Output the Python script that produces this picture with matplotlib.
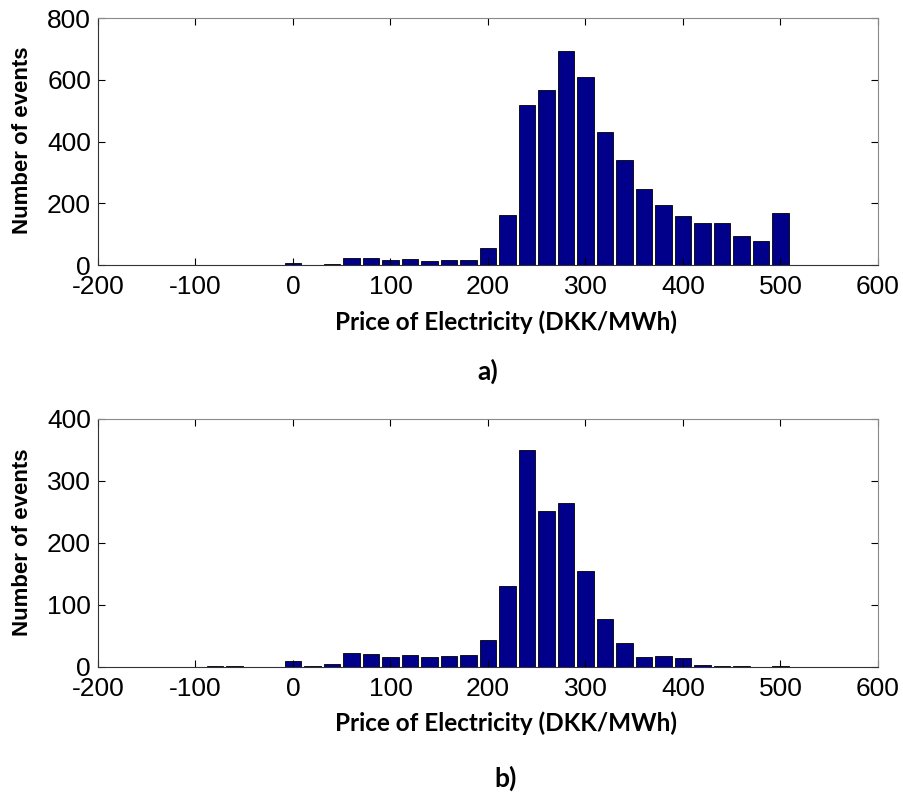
import matplotlib
matplotlib.use("Agg")
import matplotlib.pyplot as plt

# =========================
# DONNÉES (histogrammes)
# =========================

prix_bins = [-80, -60, -40, -20, 0, 20, 40, 60, 80, 100, 120, 140, 160, 180, 200,
             220, 240, 260, 280, 300, 320, 340, 360, 380, 400, 420, 440, 460, 480, 500]

events_a = [0, 0, 0, 0, 8, 0, 3, 22, 22, 16, 20, 14, 16, 17, 55,
            163, 517, 566, 692, 608, 431, 339, 245, 193, 160, 137, 137, 95, 79, 170]

events_b = [1, 1, 0, 0, 10, 1, 5, 22, 21, 16, 20, 16, 17, 20, 44,
            130, 350, 252, 265, 155, 77, 38, 16, 18, 14, 4, 2, 2, 0, 2]

x_ticks = [-200, -100, 0, 100, 200, 300, 400, 500, 600]
y_ticks_a = [0, 200, 400, 600, 800]
y_ticks_b = [0, 100, 200, 300, 400]

XLABEL = "Price of Electricity (DKK/MWh)"
YLABEL = "Number of events"

# =========================
# FIGURE
# =========================

plt.rcParams["axes.unicode_minus"] = False

fig = plt.figure(figsize=(9.04, 7.96), dpi=100)

ax_a = fig.add_axes([98 / 904, 1 - 265 / 796, 780 / 904, 247 / 796])
ax_b = fig.add_axes([98 / 904, 1 - 667 / 796, 780 / 904, 248 / 796])


def dessiner(ax, valeurs, yticks):
    ax.bar(prix_bins, valeurs, width=16.5, color="#00008B",
           edgecolor="black", linewidth=0.6)
    ax.set_xlim(-200, 600)
    ax.set_ylim(yticks[0], yticks[-1])
    ax.set_xticks(x_ticks)
    ax.set_yticks(yticks)
    ax.tick_params(direction="in", length=5, width=0.8, top=True, right=True,
                   labelsize=19, colors="black")
    ax.tick_params(axis="x", pad=7)
    ax.tick_params(axis="y", pad=5)
    for lab in ax.get_xticklabels() + ax.get_yticklabels():
        lab.set_fontfamily("Liberation Sans")
    for cote in ["top", "right"]:
        ax.spines[cote].set_color("#8a8a8a")
    for cote in ["bottom", "left"]:
        ax.spines[cote].set_color("#333333")


dessiner(ax_a, events_a, y_ticks_a)
dessiner(ax_b, events_b, y_ticks_b)

# Labels des axes
fig.text(23 / 904, 1 - 140 / 796, YLABEL, rotation=90, ha="center", va="center",
         fontsize=16, fontweight="bold", family="Liberation Sans")
fig.text(23 / 904, 1 - 542 / 796, YLABEL, rotation=90, ha="center", va="center",
         fontsize=16, fontweight="bold", family="Liberation Sans")

fig.text(506 / 904, 1 - 322 / 796, XLABEL, ha="center", va="center",
         fontsize=17.5, fontweight="bold", family="Lato")
fig.text(506 / 904, 1 - 723 / 796, XLABEL, ha="center", va="center",
         fontsize=17.5, fontweight="bold", family="Lato")

# Sous-titres
fig.text(488 / 904, 1 - 371 / 796, "a)", ha="center", va="center",
         fontsize=19, fontweight="bold", family="Lato")
fig.text(506 / 904, 1 - 778 / 796, "b)", ha="center", va="center",
         fontsize=19, fontweight="bold", family="Lato")

plt.savefig("out.png", dpi=100)
